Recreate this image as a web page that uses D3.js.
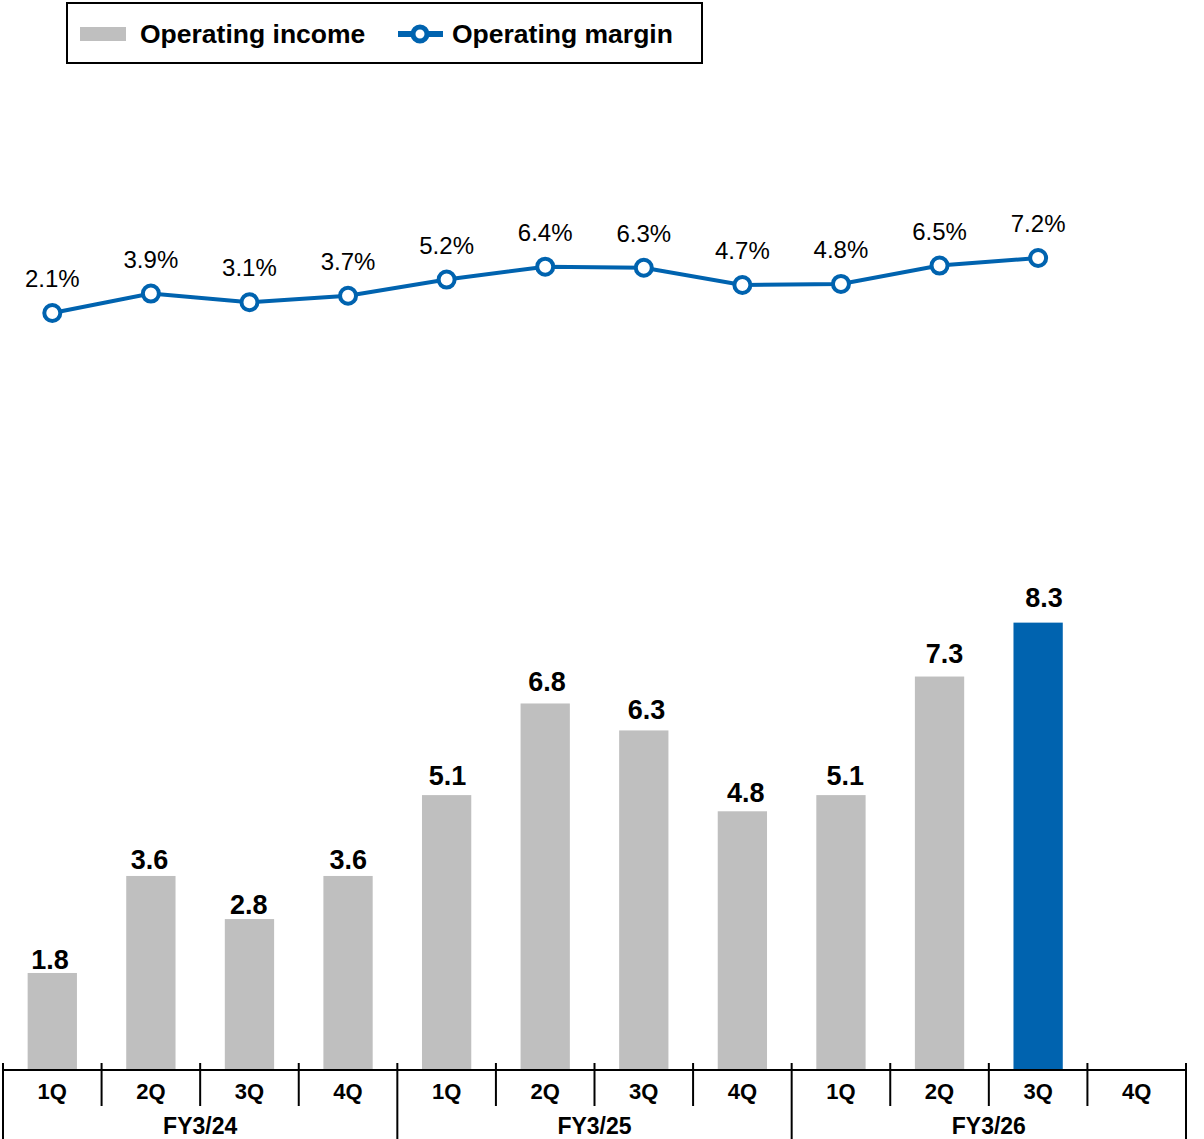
<!DOCTYPE html>
<html>
<head>
<meta charset="utf-8">
<script src="https://cdn.jsdelivr.net/npm/d3@7"></script>
<style>
  html, body { margin: 0; padding: 0; background: #fff; }
  svg { display: block; font-family: Arial, "Liberation Sans", sans-serif; }
</style>
</head>
<body>
<svg id="chart" width="1204" height="1139"></svg>
<script>
// data
var fiscalYears = ["FY3/24", "FY3/25", "FY3/26"];
var quarters = ["1Q", "2Q", "3Q", "4Q"];
var operatingIncome = [1.8, 3.6, 2.8, 3.6, 5.1, 6.8, 6.3, 4.8, 5.1, 7.3, 8.3, null];
var operatingMargin = [2.1, 3.9, 3.1, 3.7, 5.2, 6.4, 6.3, 4.7, 4.8, 6.5, 7.2, null];
var highlightIndex = 10;

var GRAY = "#bfbfbf",
    BLUE = "#0063af";

var svg = d3.select("#chart");

var keys = [];
fiscalYears.forEach(function(fy) {
    quarters.forEach(function(q) { keys.push({fy: fy, q: q, key: fy + "-" + q}); });
});
keys.forEach(function(k, i) {
    k.income = operatingIncome[i];
    k.margin = operatingMargin[i];
    k.i = i;
});

var x = d3.scaleBand()
    .domain(keys.map(function(k) { return k.key; }))
    .range([3, 1186])
    .paddingInner(0.5)
    .paddingOuter(0.25);

var yBar = d3.scaleLinear().domain([0, 10]).range([1070, 531]);
// value labels sit on a slightly stretched scale in the original
var yBarLabel = d3.scaleLinear().domain([0, 10]).range([1069.5, 512.5]);
var yLine = d3.scaleLinear().domain([2, 8]).range([314.1, 249.4]);

var half = (x.step() - x.bandwidth()) / 2;
function leftEdge(k) { return x(k) - half; }
function cx(k) { return x(k) + x.bandwidth() / 2; }
var xBarLabel = d3.scaleLinear().domain([cx(keys[0].key), cx(keys[10].key)]).range([50, 1044]);

/*
 * bars
 */
var withIncome = keys.filter(function(k) { return k.income !== null; });
svg.append("g").selectAll("rect")
    .data(withIncome)
    .enter().append("rect")
    .attr("x", function(d) { return x(d.key); })
    .attr("y", function(d) { return yBar(d.income); })
    .attr("width", x.bandwidth())
    .attr("height", function(d) { return yBar(0) - yBar(d.income); })
    .attr("fill", function(d) { return d.i === highlightIndex ? BLUE : GRAY; });

svg.append("g").selectAll("text")
    .data(withIncome)
    .enter().append("text")
    .attr("x", function(d) { return xBarLabel(cx(d.key)); })
    .attr("y", function(d) { return yBarLabel(d.income); })
    .attr("text-anchor", "middle")
    .style("font-size", "27px")
    .style("font-weight", "bold")
    .attr("fill", "#000")
    .text(function(d) { return d3.format(".1f")(d.income); });

/*
 * axis with quarter and fiscal year rows
 */
var axis = svg.append("g").attr("stroke", "#000").attr("stroke-width", 2);
axis.append("line")
    .attr("x1", 3).attr("x2", 1186)
    .attr("y1", yBar(0)).attr("y2", yBar(0));
keys.forEach(function(k) {
    var isGroupStart = k.q === quarters[0];
    axis.append("line")
        .attr("x1", leftEdge(k.key)).attr("x2", leftEdge(k.key))
        .attr("y1", 1063).attr("y2", isGroupStart ? 1139 : 1106);
});
axis.append("line")
    .attr("x1", 1186).attr("x2", 1186)
    .attr("y1", 1063).attr("y2", 1139);

svg.append("g").selectAll("text")
    .data(keys)
    .enter().append("text")
    .attr("x", function(d) { return cx(d.key); })
    .attr("y", 1099)
    .attr("text-anchor", "middle")
    .style("font-size", "22px")
    .style("font-weight", "bold")
    .text(function(d) { return d.q; });

svg.append("g").selectAll("text")
    .data(fiscalYears)
    .enter().append("text")
    .attr("x", function(fy) {
        var first = leftEdge(fy + "-" + quarters[0]);
        var last = x(fy + "-" + quarters[3]) + x.bandwidth() + half;
        return (first + last) / 2;
    })
    .attr("y", 1134)
    .attr("text-anchor", "middle")
    .style("font-size", "23px")
    .style("font-weight", "bold")
    .text(function(fy) { return fy; });

/*
 * margin line
 */
var withMargin = keys.filter(function(k) { return k.margin !== null; });
var line = d3.line()
    .x(function(d) { return cx(d.key); })
    .y(function(d) { return yLine(d.margin); });

svg.append("path")
    .datum(withMargin)
    .attr("d", line)
    .attr("fill", "none")
    .attr("stroke", BLUE)
    .attr("stroke-width", 4);

svg.append("g").selectAll("circle")
    .data(withMargin)
    .enter().append("circle")
    .attr("cx", function(d) { return cx(d.key); })
    .attr("cy", function(d) { return yLine(d.margin); })
    .attr("r", 8)
    .attr("fill", "#fff")
    .attr("stroke", BLUE)
    .attr("stroke-width", 4);

svg.append("g").selectAll("text")
    .data(withMargin)
    .enter().append("text")
    .attr("x", function(d) { return cx(d.key); })
    .attr("y", function(d) { return yLine(d.margin) - 26; })
    .attr("text-anchor", "middle")
    .style("font-size", "24px")
    .attr("fill", "#000")
    .text(function(d) { return d3.format(".1f")(d.margin) + "%"; });

/*
 * legend
 */
var legend = svg.append("g");
legend.append("rect")
    .attr("x", 67).attr("y", 3)
    .attr("width", 635).attr("height", 60)
    .attr("fill", "#fff")
    .attr("stroke", "#000")
    .attr("stroke-width", 2);
legend.append("rect")
    .attr("x", 80).attr("y", 27)
    .attr("width", 46).attr("height", 14)
    .attr("fill", GRAY);
legend.append("text")
    .attr("x", 140).attr("y", 43)
    .style("font-size", "26.5px")
    .style("font-weight", "bold")
    .text("Operating income");
legend.append("line")
    .attr("x1", 398).attr("x2", 443)
    .attr("y1", 34).attr("y2", 34)
    .attr("stroke", BLUE)
    .attr("stroke-width", 6);
legend.append("circle")
    .attr("cx", 420).attr("cy", 34)
    .attr("r", 7)
    .attr("fill", "#fff")
    .attr("stroke", BLUE)
    .attr("stroke-width", 5);
legend.append("text")
    .attr("x", 452).attr("y", 43)
    .style("font-size", "26.5px")
    .style("font-weight", "bold")
    .text("Operating margin");
</script>
</body>
</html>
